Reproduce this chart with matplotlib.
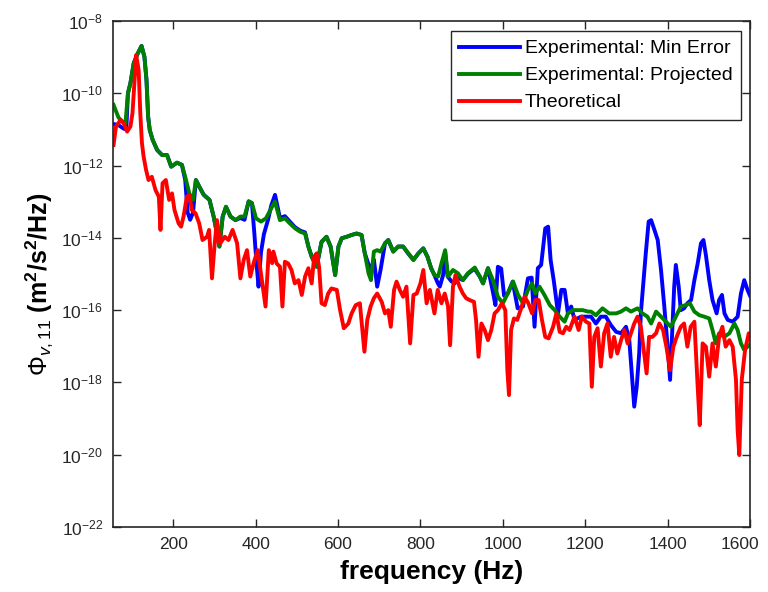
import numpy as np
import matplotlib
matplotlib.use("Agg")
import matplotlib.pyplot as plt
from matplotlib.ticker import FixedLocator, NullLocator
from matplotlib.transforms import ScaledTranslation

plt.rcParams['font.family'] = ['Liberation Sans', 'DejaVu Sans']
plt.rcParams['mathtext.fontset'] = 'custom'
plt.rcParams['mathtext.rm'] = 'Liberation Sans'
plt.rcParams['mathtext.it'] = 'Liberation Sans:italic'
plt.rcParams['mathtext.bf'] = 'Liberation Sans:bold'

# ---------------------------
# data (log10 of PSD)
# ---------------------------
blue_freq = [55, 67, 80, 86, 90, 96, 104, 112, 123, 130, 135, 139, 143, 150, 161, 173, 185, 195, 209, 221,
             229, 235, 241, 248, 255, 263, 274, 288, 298, 306, 312, 320, 328, 339, 351, 363, 373, 383, 391, 397,
             402, 407, 413, 420, 430, 438, 447, 459, 471, 483, 495, 508, 520, 528, 536, 548, 560, 572, 582, 593,
             601, 609, 621, 633, 645, 657, 665, 673, 680, 687, 695, 703, 714, 722, 734, 746, 758, 770, 783, 795,
             807, 817, 826, 834, 842, 847, 855, 860, 866, 875, 883, 891, 903, 915, 931, 944, 952, 964, 976, 982,
             988, 996, 1003, 1012, 1024, 1036, 1049, 1061, 1070, 1077, 1085, 1093, 1103, 1110, 1116, 1124, 1134, 1142, 1150, 1158,
             1166, 1174, 1190, 1203, 1214, 1226, 1238, 1250, 1262, 1275, 1287, 1299, 1307, 1313, 1319, 1325, 1331, 1335, 1341, 1347,
             1354, 1360, 1368, 1376, 1384, 1392, 1400, 1406, 1412, 1416, 1420, 1427, 1432, 1440, 1448, 1457, 1465, 1473, 1481, 1487,
             1493, 1501, 1509, 1519, 1525, 1532, 1538, 1546, 1558, 1570, 1578, 1586, 1594, 1600]
blue_exp = [-10.85, -10.88, -10.98, -11.0, -10.0, -9.72, -9.17, -8.94, -8.69, -8.99, -9.63, -10.65, -11.02, -11.29, -11.57, -11.71, -11.71, -12.03, -11.92, -11.98,
            -12.40, -13.30, -13.50, -13.30, -12.40, -12.58, -12.81, -12.95, -13.41, -13.87, -14.24, -13.41, -13.14, -13.41, -13.51, -13.45, -13.50, -12.99, -13.04, -13.9,
            -14.7, -15.35, -14.4, -13.9, -13.5, -13.1, -12.81, -13.45, -13.40, -13.55, -13.70, -13.80, -13.85, -14.24, -14.52, -14.80, -14.11, -13.97, -14.24, -15.03,
            -14.24, -14.01, -13.97, -13.92, -13.88, -13.92, -14.43, -14.7, -14.9, -14.6, -15.35, -14.9, -14.15, -14.06, -14.38, -14.24, -14.24, -14.43, -14.61, -14.43,
            -14.29, -14.52, -14.84, -15.03, -15.25, -15.35, -15.03, -14.4, -15.07, -15.2, -15.26, -15.1, -15.17, -15.0, -14.85, -15.07, -15.26, -14.84, -15.5, -15.86,
            -14.80, -14.85, -15.6, -15.54, -15.21, -15.95, -15.9, -15.12, -15.10, -16.46, -14.84, -14.75, -13.74, -13.69, -14.61, -15.21, -16.09, -15.44, -15.44, -16.09,
            -15.90, -16.27, -16.18, -16.18, -16.18, -16.37, -16.18, -16.18, -16.41, -16.60, -16.64, -16.46, -16.83, -17.75, -18.67, -18.12, -17.20, -16.09, -15.26, -14.43,
            -13.55, -13.51, -13.78, -14.06, -14.89, -15.90, -17.01, -17.93, -16.37, -15.35, -14.75, -15.35, -16.00, -15.95, -15.81, -15.72, -15.17, -14.71, -14.15, -14.06,
            -14.48, -15.17, -15.72, -16.09, -15.72, -15.58, -16.09, -16.27, -16.32, -16.18, -15.54, -15.17, -15.44, -15.6]

green_freq = [55, 67, 78, 84, 90, 96, 104, 112, 123, 130, 135, 139, 143, 150, 161, 173, 185, 195, 209, 221,
              229, 239, 248, 255, 263, 274, 288, 298, 306, 312, 320, 328, 339, 351, 363, 373, 383, 391, 401, 413,
              425, 438, 447, 459, 471, 483, 496, 508, 520, 528, 536, 548, 560, 572, 582, 593, 601, 609, 621, 633,
              645, 657, 665, 674, 680, 687, 695, 703, 714, 722, 734, 746, 758, 771, 783, 795, 807, 817, 826, 834,
              843, 851, 860, 867, 879, 891, 903, 915, 932, 944, 952, 964, 976, 988, 1000, 1012, 1025, 1037, 1049, 1061,
              1071, 1079, 1089, 1101, 1114, 1126, 1138, 1150, 1158, 1170, 1182, 1194, 1207, 1214, 1226, 1242, 1258, 1275, 1287, 1299,
              1311, 1327, 1339, 1351, 1360, 1372, 1384, 1396, 1408, 1420, 1432, 1444, 1454, 1465, 1477, 1489, 1501, 1509, 1517, 1525,
              1537, 1550, 1562, 1570, 1578, 1586, 1594, 1600]
green_exp = [-10.32, -10.67, -10.80, -10.83, -10.00, -9.72, -9.17, -8.94, -8.69, -8.99, -9.63, -10.65, -11.02, -11.29, -11.57, -11.71, -11.71, -12.03, -11.92, -11.98,
             -12.31, -12.77, -12.95, -12.40, -12.58, -12.81, -12.95, -13.41, -13.87, -14.24, -13.41, -13.14, -13.41, -13.51, -13.41, -13.41, -12.99, -13.04, -13.46, -13.55,
             -13.46, -13.18, -13.00, -13.51, -13.46, -13.60, -13.74, -13.83, -13.88, -14.24, -14.52, -14.80, -14.11, -13.97, -14.24, -15.03, -14.24, -14.01, -13.97, -13.92,
             -13.88, -13.92, -14.43, -14.98, -15.17, -14.38, -14.34, -14.38, -14.15, -14.06, -14.38, -14.24, -14.24, -14.43, -14.61, -14.43, -14.29, -14.52, -14.84, -15.03,
             -15.07, -14.71, -14.34, -15.07, -14.89, -14.98, -15.17, -14.98, -14.82, -15.07, -15.26, -14.84, -15.17, -15.63, -15.81, -15.54, -15.21, -15.58, -15.81, -15.44,
             -15.26, -15.54, -15.35, -15.58, -15.86, -16.00, -16.18, -16.32, -16.09, -16.00, -16.00, -16.00, -16.04, -16.04, -16.14, -15.95, -16.09, -16.09, -16.04, -15.95,
             -16.04, -15.95, -16.09, -16.18, -16.37, -16.04, -16.18, -16.32, -16.46, -16.18, -15.90, -15.86, -15.81, -16.04, -16.14, -16.18, -16.23, -16.55, -16.92, -16.64,
             -16.74, -16.64, -16.37, -16.55, -16.92, -17.10, -17.01, -16.95]

red_freq = [55, 61, 72, 80, 88, 96, 101, 106, 110, 116, 120, 124, 128, 134, 140, 148, 157, 165, 169, 174,
            182, 190, 197, 203, 213, 219, 225, 233, 239, 245, 254, 263, 271, 282, 287, 294, 300, 306, 314, 325,
            334, 344, 355, 363, 371, 379, 387, 395, 405, 414, 424, 432, 440, 443, 451, 459, 465, 471, 479, 487,
            495, 504, 512, 520, 528, 536, 542, 548, 554, 560, 568, 576, 584, 597, 605, 614, 625, 633, 643, 653,
            664, 671, 679, 687, 695, 706, 714, 722, 728, 736, 742, 750, 758, 766, 775, 783, 791, 800, 807, 815,
            823, 834, 842, 851, 859, 867, 872, 879, 885, 895, 903, 911, 919, 930, 935, 941, 948, 956, 964, 972,
            980, 988, 998, 1006, 1011, 1015, 1020, 1027, 1035, 1043, 1053, 1062, 1071, 1079, 1087, 1095, 1103, 1111, 1122, 1130,
            1138, 1146, 1154, 1162, 1174, 1184, 1192, 1202, 1210, 1216, 1222, 1230, 1238, 1246, 1254, 1262, 1270, 1278, 1287, 1295,
            1303, 1311, 1319, 1327, 1335, 1343, 1349, 1355, 1363, 1372, 1380, 1389, 1397, 1406, 1414, 1422, 1432, 1440, 1448, 1456,
            1465, 1473, 1478, 1485, 1493, 1501, 1509, 1517, 1525, 1533, 1541, 1550, 1558, 1566, 1570, 1574, 1580, 1588, 1597, 1600]
red_exp = [-11.43, -10.92, -10.74, -10.83, -11.06, -10.92, -10.55, -9.63, -8.94, -9.36, -10.55, -11.38, -11.75, -12.12, -12.40, -12.31, -12.68, -12.86, -13.78, -12.49,
           -12.40, -12.95, -12.77, -13.23, -13.60, -13.69, -13.41, -12.86, -12.81, -13.23, -13.32, -13.60, -14.06, -13.97, -13.78, -15.12, -14.24, -13.51, -14.15, -13.97,
           -14.06, -13.78, -14.15, -15.12, -14.61, -14.34, -15.07, -14.70, -14.34, -15.07, -15.90, -14.34, -14.70, -14.38, -14.71, -14.80, -15.90, -14.66, -14.71, -14.89,
           -15.26, -15.17, -15.58, -15.07, -14.84, -15.26, -14.52, -14.43, -14.80, -15.81, -15.86, -15.54, -15.40, -15.44, -16.00, -16.50, -16.37, -16.09, -15.86, -15.81,
           -17.15, -16.27, -15.90, -15.67, -15.54, -15.77, -16.09, -16.00, -16.46, -15.44, -15.21, -15.44, -15.63, -15.35, -16.92, -15.58, -15.54, -15.26, -14.89, -15.81,
           -15.44, -16.09, -15.44, -15.81, -15.54, -15.90, -16.97, -15.35, -15.03, -15.35, -15.54, -15.67, -15.72, -15.77, -16.27, -17.29, -16.37, -16.55, -16.83, -16.55,
           -16.09, -16.00, -15.81, -16.00, -17.66, -18.35, -16.55, -16.23, -16.27, -16.00, -15.63, -15.81, -16.09, -15.72, -15.72, -16.27, -16.74, -16.78, -16.46, -16.09,
           -16.60, -16.64, -16.46, -16.55, -16.18, -16.55, -16.18, -16.32, -16.37, -18.12, -16.74, -16.50, -17.56, -16.64, -16.37, -17.29, -16.74, -17.20, -16.83, -16.55,
           -16.92, -16.64, -16.37, -16.18, -16.46, -17.20, -17.75, -16.74, -16.74, -16.64, -16.37, -16.55, -17.01, -17.66, -17.01, -16.74, -16.46, -16.37, -17.01, -16.46,
           -16.32, -18.12, -19.18, -16.92, -17.01, -17.84, -16.92, -17.56, -16.74, -16.46, -17.01, -16.83, -17.01, -17.93, -19.32, -20.01, -17.93, -17.10, -16.64, -16.8]

series_labels = ["Experimental: Min Error", "Experimental: Projected", "Theoretical"]
xticks = [200, 400, 600, 800, 1000, 1200, 1400, 1600]
yexps = [-22, -20, -18, -16, -14, -12, -10, -8]

# ---------------------------
# figure
# ---------------------------
fig = plt.figure(figsize=(7.68, 5.92), dpi=100)
ax = fig.add_axes([112.7 / 768, 65 / 592, 637.3 / 768, 506 / 592])

lw = 2.8
ax.plot(blue_freq, 10.0 ** np.array(blue_exp), color=(0, 0, 1), lw=lw, label=series_labels[0])
ax.plot(green_freq, 10.0 ** np.array(green_exp), color=(0, 0.5, 0), lw=lw, label=series_labels[1])
ax.plot(red_freq, 10.0 ** np.array(red_exp), color=(1, 0, 0), lw=lw, label=series_labels[2])

ax.set_yscale('log')
ax.set_xlim(53, 1600)
ax.set_ylim(1e-22, 1e-8)
ax.xaxis.set_major_locator(FixedLocator(xticks))
ax.set_xticklabels([str(t) for t in xticks])
ax.yaxis.set_major_locator(FixedLocator([10.0 ** e for e in yexps]))
ax.yaxis.set_minor_locator(NullLocator())
ax.set_yticklabels([r'$10^{\mathrm{-}%d}$' % -e for e in yexps])

ax.tick_params(axis='both', which='major', direction='in', length=6, width=1,
               top=True, right=True, labelsize=12.5, colors='#262626', pad=7)
# nudge the last x label left so it stays inside the picture
last = ax.get_xticklabels()[-1]
last.set_transform(last.get_transform() + ScaledTranslation(-7 / 72, 0, fig.dpi_scale_trans))
for sp in ax.spines.values():
    sp.set_linewidth(1.2)
    sp.set_color('#262626')

ax.set_xlabel('frequency (Hz)', fontsize=19, fontweight='bold', labelpad=6)
ax.set_ylabel(r'$\Phi_{v,11}$ (m$^\mathbf{2}$/s$^\mathbf{2}$/Hz)', fontsize=18, fontweight='bold')
ax.yaxis.set_label_coords(-0.09, 0.48)

leg = ax.legend(loc='upper right', bbox_to_anchor=(0.986, 0.980), fontsize=14,
                handlelength=3.1, handletextpad=0.25, borderpad=0.45, labelspacing=0.48,
                borderaxespad=0, fancybox=False, framealpha=1)
leg.get_frame().set_edgecolor('#262626')
leg.get_frame().set_linewidth(1.0)

fig.savefig('out.png', dpi=100)
